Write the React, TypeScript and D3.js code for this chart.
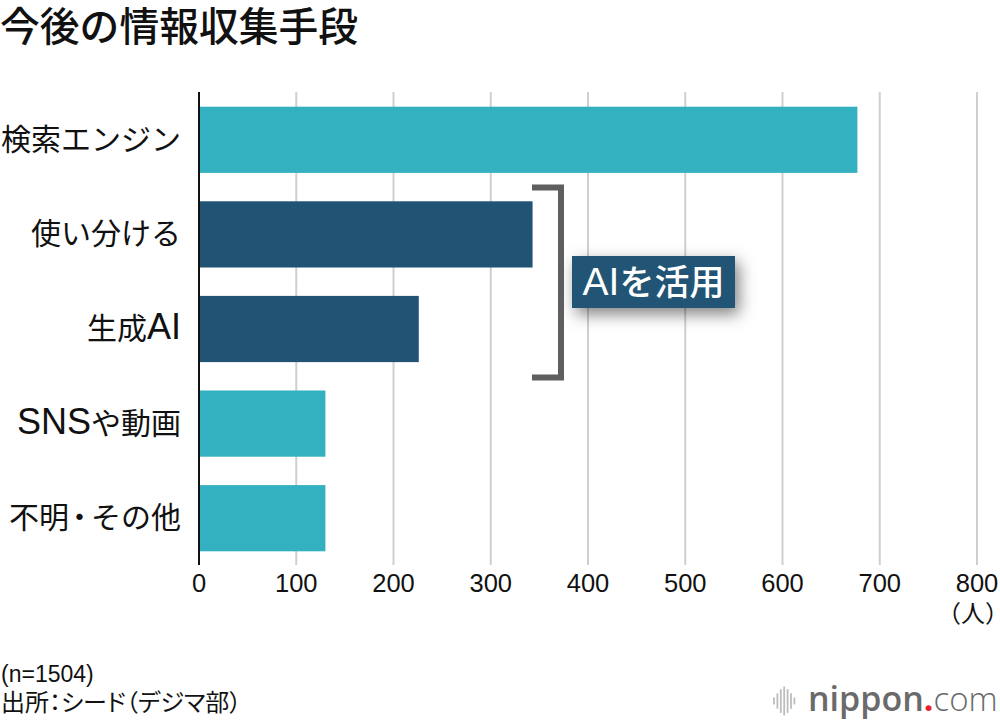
import { useRef, useEffect } from "react";
import * as d3 from "d3";

const categories = ["検索エンジン", "使い分ける", "生成AI", "SNSや動画", "不明・その他"];
const values = [677, 343, 226, 130, 130];
const highlighted = [false, true, true, false, false];
const xTicks = [0, 100, 200, 300, 400, 500, 600, 700, 800];

const TEAL = "#34b1c1";
const NAVY = "#215474";
const FONT = "'Noto Sans CJK JP', sans-serif";
const LATIN = "'Liberation Sans', 'Noto Sans CJK JP', sans-serif";

// Latin runs sit larger than the kana next to them, the dot is set narrow
function mixedText(el: any, text: string, latinSize: number) {
  const runs = text.match(/[A-Za-z]+|・|[^A-Za-z・]+/g) || [];
  runs.forEach((run, i) => {
    const t = el.append("tspan").text(run);
    if (/^[A-Za-z]/.test(run)) t.attr("font-family", LATIN).attr("font-size", latinSize);
    else t.attr("font-family", FONT);
    if (run === "・") t.style("font-feature-settings", "'palt'").attr("dx", 3);
    if (runs[i - 1] === "・") t.attr("dx", 4);
  });
}

export default function App() {
  const svgRef = useRef<SVGSVGElement>(null);

  useEffect(() => {
    if (!svgRef.current) return;
    const svg = d3.select(svgRef.current);
    svg.selectAll("*").remove();

    const x = d3.scaleLinear().domain([0, 800]).range([199, 977]);
    const y = d3.scaleBand().domain(categories).range([92.5, 565.5]).paddingInner(0.3).paddingOuter(0.15);

    const defs = svg.append("defs");
    const shadow = defs.append("filter").attr("id", "label-shadow")
      .attr("x", "-20%").attr("y", "-50%").attr("width", "145%").attr("height", "210%");
    shadow.append("feDropShadow").attr("dx", 4).attr("dy", 6).attr("stdDeviation", 8)
      .attr("flood-color", "#000").attr("flood-opacity", 0.5);

    svg.append("text").attr("x", 0).attr("y", 41)
      .attr("font-family", FONT).attr("font-size", 39.8).attr("font-weight", 500).attr("fill", "#111")
      .text("今後の情報収集手段");

    // Grid
    svg.append("g").selectAll("line").data(xTicks.slice(1)).join("line")
      .attr("x1", d => x(d)).attr("x2", d => x(d))
      .attr("y1", 92).attr("y2", 565)
      .attr("stroke", "#cfcfcf").attr("stroke-width", 2);

    // Bars
    svg.append("g").selectAll("rect").data(categories).join("rect")
      .attr("x", x(0))
      .attr("y", d => y(d)!)
      .attr("width", (_, i) => x(values[i]) - x(0))
      .attr("height", y.bandwidth())
      .attr("fill", (_, i) => (highlighted[i] ? NAVY : TEAL));

    // Baseline
    svg.append("line").attr("x1", x(0)).attr("x2", x(0)).attr("y1", 92).attr("y2", 565)
      .attr("stroke", "#111").attr("stroke-width", 2);

    // Category labels
    svg.append("g").selectAll("text").data(categories).join("text")
      .attr("x", 181)
      .attr("y", d => y(d)! + y.bandwidth() / 2 + 10)
      .attr("text-anchor", "end")
      .attr("font-size", 30).attr("fill", "#111")
      .each(function (d) { mixedText(d3.select(this), d, 36); });

    // Tick labels
    svg.append("g").selectAll("text").data(xTicks).join("text")
      .attr("x", d => x(d))
      .attr("y", 592)
      .attr("text-anchor", "middle")
      .attr("font-family", LATIN).attr("font-size", 25.5).attr("fill", "#111")
      .text(d => d);

    svg.append("text").attr("x", 973).attr("y", 622).attr("text-anchor", "middle")
      .attr("font-family", FONT).attr("font-size", 24).attr("fill", "#111").text("（人）");

    // Bracket
    svg.append("path")
      .attr("d", "M532,187.5H561V377.5H532")
      .attr("fill", "none").attr("stroke", "#5f5f5f").attr("stroke-width", 6);

    // Callout
    svg.append("rect").attr("x", 572).attr("y", 256).attr("width", 163).attr("height", 52)
      .attr("fill", NAVY).attr("filter", "url(#label-shadow)");
    svg.append("text").attr("x", 653.5).attr("y", 295).attr("text-anchor", "middle")
      .attr("font-size", 35).attr("font-weight", 500).attr("fill", "#fff")
      .each(function () { mixedText(d3.select(this), "AIを活用", 39); });

    // Notes
    svg.append("text").attr("x", 1).attr("y", 682)
      .attr("font-family", LATIN).attr("font-size", 23).attr("fill", "#111").text("(n=1504)");
    svg.append("text").attr("x", 1).attr("y", 711)
      .attr("font-family", FONT).attr("font-size", 24).attr("fill", "#111")
      .style("font-feature-settings", "'palt'")
      .text("出所：シード（デジマ部）");

    // Logo
    const logoBars = [4, 9, 14, 17, 14, 9, 4];
    svg.append("g").selectAll("line").data(logoBars).join("line")
      .attr("x1", (_, i) => 774 + i * 3.4).attr("x2", (_, i) => 774 + i * 3.4)
      .attr("y1", d => 701 - d * 0.85).attr("y2", d => 701 + d * 0.85)
      .attr("stroke", "#bdbdbd").attr("stroke-width", 1.8);
    const logo = svg.append("text").attr("x", 808).attr("y", 711)
      .attr("font-family", "'Open Sans', sans-serif").attr("font-size", 34).attr("fill", "#6a6a6a");
    logo.append("tspan").attr("font-weight", 600).text("nippon");
    logo.append("tspan").attr("fill", "#e8212b").attr("font-weight", 700).text(".");
    logo.append("tspan").attr("font-weight", 300).attr("font-size", 33).text("com");
  }, []);

  return (
    <svg ref={svgRef} width={1000} height={724}
      style={{ position: "absolute", left: 0, top: 0, background: "#fff" }} />
  );
}
